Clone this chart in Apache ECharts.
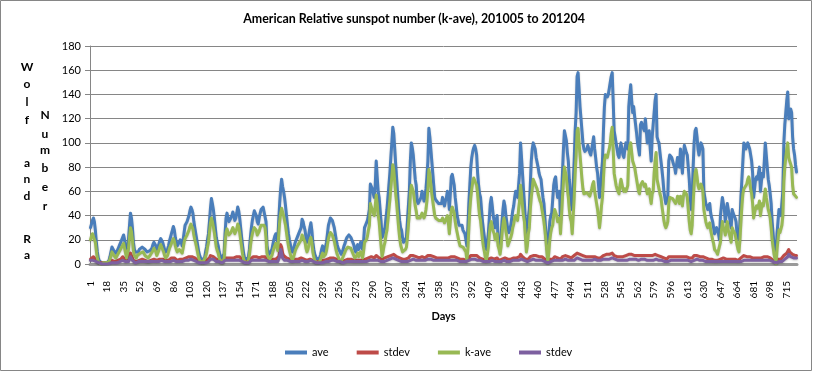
<!DOCTYPE html>
<html><head><meta charset="utf-8">
<script src="https://cdn.jsdelivr.net/npm/echarts@6/dist/echarts.min.js"></script>
<style>html,body{margin:0;padding:0;background:#fff}#c{width:813px;height:372px}</style>
</head><body><div id="c"></div>
<script>
// categories: day numbers
const days = [];
for (let i = 1; i <= 725; i++) days.push(String(i));

const yTicks = [0, 20, 40, 60, 80, 100, 120, 140, 160, 180];

const ave = [
30,33,36,38,35,28,18,10,5,3,2,1,1,2,1,1,2,1,2,3,6,10,14,13,11,
10,9,10,12,14,16,18,20,22,24,20,15,10,8,20,32,42,38,30,18,12,10,9,11,10,
12,13,12,14,15,14,12,11,10,9,10,11,10,13,16,18,19,15,12,13,16,19,21,22,18,
15,12,10,10,12,15,19,22,25,28,31,28,22,18,15,16,18,20,18,15,20,26,32,33,35,
36,40,44,47,45,42,35,30,25,20,15,10,7,5,5,4,3,5,10,14,20,25,35,46,54,
50,45,38,30,22,18,15,10,7,5,4,4,8,25,38,42,38,35,36,38,40,43,40,36,38,
42,47,44,38,30,22,15,9,5,4,5,4,6,12,22,30,36,40,44,45,40,35,33,38,42,
45,46,47,47,46,35,15,10,8,7,8,12,16,20,23,25,22,18,35,50,62,70,64,60,55,
48,40,32,25,20,16,12,10,12,15,18,20,22,24,25,25,30,37,35,31,28,22,18,20,25,
30,34,28,18,12,8,6,4,3,3,5,8,12,15,12,10,14,18,25,32,35,38,37,36,35,
30,25,20,16,13,12,10,8,9,12,15,17,20,22,23,24,24,22,20,18,16,12,10,14,16,
12,14,18,15,12,18,30,32,33,36,40,45,66,64,62,58,55,65,85,72,60,55,45,35,22,
24,28,30,38,45,55,65,75,88,100,113,108,95,82,70,58,45,36,30,28,22,18,17,20,22,
35,48,60,85,100,96,90,80,70,65,52,50,49,50,55,60,56,52,55,62,72,85,112,105,95,
85,75,65,55,53,52,52,50,50,49,50,55,52,48,52,55,60,55,45,58,72,74,75,65,55,
48,40,36,32,32,33,32,28,27,25,20,15,30,50,65,80,88,93,96,98,95,90,75,65,58,
55,45,35,28,22,15,12,18,25,38,50,55,48,40,35,30,36,40,20,17,15,22,35,45,52,
48,40,34,28,26,25,32,38,44,48,55,60,58,55,65,75,100,88,75,62,50,35,25,30,38,
45,65,85,95,100,100,95,88,88,80,75,72,70,62,55,50,38,25,15,8,25,35,40,42,42,
65,70,72,62,55,58,60,35,55,75,95,110,106,102,92,85,70,60,50,45,65,85,110,125,155,
158,145,130,120,110,100,95,93,92,95,98,95,92,90,95,100,105,95,88,80,75,65,55,65,75,
85,110,130,140,139,138,140,145,150,155,158,135,110,105,100,95,90,88,95,100,95,90,88,95,100,
97,95,130,140,148,135,125,130,122,115,108,100,95,90,115,117,118,112,110,120,110,100,105,110,95,
85,105,115,125,135,140,105,102,100,92,85,78,70,60,55,50,52,55,85,90,90,88,85,82,80,
75,82,88,85,80,95,85,75,90,98,95,92,90,80,70,55,45,55,80,100,110,112,105,95,90,
95,100,98,95,60,55,50,48,45,48,50,42,38,35,30,25,28,30,30,25,20,40,48,55,50,
45,35,42,50,45,40,35,30,45,42,40,38,35,25,22,20,35,55,70,85,100,98,95,98,100,
100,95,90,85,75,55,62,70,72,70,75,80,60,68,75,72,85,100,90,80,70,65,58,50,35,
25,15,10,5,25,35,45,42,40,50,60,100,115,125,135,142,120,125,128,125,105,95,90,82,76
];

const stdevAve = [
4,5,5,6,5,4,3,2,1,1,1,1,1,1,1,1,1,1,1,1,2,2,3,3,2,
2,2,2,3,3,3,4,4,6,7,5,3,2,2,4,7,9,7,5,3,3,2,2,3,3,
3,3,3,4,4,3,3,3,3,2,3,3,3,3,4,4,4,3,3,3,4,4,4,5,4,
3,3,3,3,3,3,4,4,5,5,6,5,4,4,3,3,4,4,4,3,4,5,5,5,6,
6,6,7,7,6,6,5,5,4,4,3,3,2,2,2,2,2,2,3,3,4,4,5,7,8,
7,6,6,5,4,4,3,3,2,2,2,2,3,5,6,6,5,5,5,5,6,6,5,5,5,
6,7,6,6,5,4,3,3,2,2,2,2,2,3,4,5,5,6,6,6,6,5,5,5,6,
6,6,6,6,6,5,3,3,3,3,3,3,4,4,4,4,4,4,6,10,16,14,9,7,6,
6,5,5,4,4,3,3,3,3,3,4,4,4,4,4,4,5,5,5,4,4,4,3,4,4,
4,5,4,3,3,2,2,2,2,2,2,2,3,3,3,3,3,4,4,5,5,5,5,5,5,
5,4,4,3,3,3,3,2,2,3,3,3,4,4,4,4,4,4,4,4,3,3,3,3,3,
3,3,3,3,3,3,4,4,4,5,5,5,6,6,6,6,5,6,7,6,6,5,5,4,4,
4,4,5,5,5,6,6,7,7,8,8,8,7,7,6,6,5,5,4,4,4,3,3,4,4,
5,5,6,7,7,7,7,6,6,6,5,5,5,5,5,6,5,5,5,6,6,7,8,7,7,
7,6,6,5,5,5,5,5,5,5,5,5,5,5,5,5,6,5,5,5,6,6,6,6,5,
5,5,4,4,4,4,4,4,4,4,3,3,4,5,6,7,7,7,7,8,7,7,6,6,5,
5,5,4,4,4,3,3,3,4,4,5,5,5,5,4,4,4,5,4,3,3,4,4,5,5,
5,5,4,4,4,4,4,4,5,5,5,5,5,5,6,6,8,7,6,6,5,4,3,4,4,
5,6,7,7,7,7,7,7,7,6,6,6,6,6,5,5,4,3,3,2,3,4,4,4,4,
5,6,6,5,5,5,5,4,5,6,7,7,7,7,7,6,6,5,5,5,6,7,8,8,9,
9,8,8,7,7,7,6,6,6,6,6,6,6,6,6,7,7,6,6,6,5,5,5,5,6,
6,7,8,8,8,8,8,8,9,9,9,8,7,7,7,6,6,6,6,7,6,6,6,6,7,
7,6,8,8,9,8,8,8,7,7,7,7,6,6,7,7,7,7,7,7,7,6,7,7,6,
6,7,7,8,8,8,7,7,7,6,6,6,5,5,5,4,4,5,6,6,6,6,6,6,6,
5,6,6,6,6,6,6,5,6,6,6,6,6,6,5,5,4,5,6,7,7,7,7,6,6,
6,7,7,6,5,5,5,4,4,4,4,4,4,3,3,3,3,3,3,3,3,4,4,5,5,
4,4,4,5,4,4,4,3,4,4,4,4,4,3,3,3,4,5,5,6,7,7,6,6,7,
7,6,6,6,5,5,5,5,5,5,5,6,5,5,5,5,6,7,6,6,5,5,5,4,4,
3,3,2,2,3,4,4,4,4,5,5,7,8,8,9,10,12,10,9,9,8,8,8,7,7
];

const kAve = [
20,23,25,26,24,18,11,5,2,1,0,0,0,1,0,0,1,0,1,2,4,7,10,9,7,
6,5,6,8,9,11,12,14,15,17,13,9,5,4,13,22,30,27,20,11,7,6,5,7,6,
8,9,8,9,10,9,7,7,6,5,6,7,6,8,11,13,14,10,7,8,11,14,16,17,12,
10,7,5,5,7,10,13,15,17,19,21,19,15,12,10,11,12,13,12,9,13,18,21,22,24,
25,28,31,33,31,29,24,20,17,13,9,5,3,2,2,1,1,2,6,9,14,18,26,34,38,
35,31,26,20,14,11,9,5,3,2,1,1,4,17,26,29,26,24,25,26,28,30,28,25,26,
29,33,31,26,20,14,8,4,2,1,2,1,3,8,15,21,25,28,30,31,28,24,23,27,30,
32,32,33,32,30,22,9,6,5,4,5,7,10,13,15,17,14,11,24,35,42,46,43,40,36,
32,26,20,15,11,8,5,3,5,8,11,13,14,16,17,16,20,24,23,20,18,13,10,12,16,
20,22,18,10,6,3,2,1,1,1,2,4,7,9,6,5,8,11,16,21,24,26,25,24,23,
19,15,11,8,6,4,3,2,3,6,8,10,12,13,14,14,14,13,11,9,7,5,4,7,9,
6,7,10,8,5,10,18,19,20,23,28,32,50,47,45,42,40,48,57,50,40,35,25,15,6,
10,15,18,24,28,36,45,53,63,72,82,78,68,58,50,40,30,22,16,13,10,10,11,12,14,
22,32,42,58,65,64,60,54,48,44,38,37,37,38,40,42,40,38,40,45,52,62,78,74,66,
58,52,46,40,38,38,37,36,36,35,36,38,37,34,36,38,40,34,25,35,45,47,48,42,35,
30,26,22,18,15,16,15,14,15,15,10,3,12,30,45,55,62,68,71,72,70,65,58,48,40,
36,28,20,14,10,5,3,8,14,25,32,35,30,27,25,20,22,25,15,12,8,14,25,33,38,
34,27,22,15,14,16,22,25,30,33,38,40,38,36,45,52,65,58,48,40,35,22,10,15,25,
30,45,55,62,70,70,66,65,62,58,55,52,50,45,40,35,28,20,10,1,10,20,26,30,32,
40,45,46,40,35,36,38,25,40,55,68,80,76,72,62,55,45,38,35,25,40,55,75,90,110,
112,100,90,80,70,62,58,57,57,59,60,58,56,57,62,66,68,60,55,50,45,38,30,38,48,
55,70,85,90,90,88,92,95,100,108,113,95,75,70,65,62,60,58,65,70,66,62,60,62,60,
62,65,90,98,100,92,85,86,80,75,70,65,60,58,65,66,68,66,64,66,62,58,60,62,55,
50,58,60,75,85,92,70,66,62,58,55,48,42,36,32,30,32,35,50,55,56,55,54,55,55,
50,52,56,54,50,56,54,48,56,60,60,58,55,45,35,28,25,32,50,65,75,78,72,65,62,
62,66,64,60,45,40,35,32,30,32,34,28,24,20,17,12,12,10,8,8,8,18,28,35,30,
28,24,30,35,28,25,22,18,30,28,27,25,24,16,12,10,20,35,48,58,62,62,63,66,70,
72,68,62,58,50,38,42,46,48,46,48,52,40,46,50,48,56,62,55,50,45,42,38,30,20,
14,8,4,0,12,20,28,26,25,32,40,68,80,88,95,100,88,85,86,80,65,58,57,56,55
];

const stdevK = [
3,3,3,3,3,2,2,1,1,1,0,0,0,0,0,0,0,0,0,0,1,1,1,1,1,
1,1,1,1,1,2,2,2,3,4,3,2,1,1,2,4,6,5,3,2,2,1,1,2,2,
2,2,2,2,2,2,2,2,2,1,1,2,2,2,2,2,2,2,2,2,2,2,3,3,2,
2,2,2,2,2,2,2,2,3,3,3,3,2,2,2,2,2,2,2,2,2,3,3,3,3,
3,3,4,4,4,3,3,3,2,2,2,2,1,1,1,1,1,1,1,2,2,2,3,4,4,
4,4,3,3,2,2,2,2,1,1,1,1,1,3,3,3,3,3,3,3,3,3,3,3,3,
3,4,3,3,3,2,2,1,1,1,1,1,1,2,2,3,3,3,3,3,3,3,3,3,3,
3,3,3,3,3,3,2,2,2,1,2,2,2,2,2,2,2,2,3,6,12,9,5,4,3,
3,3,3,2,2,2,2,2,2,2,2,2,2,2,2,2,3,3,3,3,2,2,2,2,2,
2,3,2,2,2,1,1,1,1,1,1,1,1,1,1,1,2,2,2,2,3,3,3,3,3,
3,2,2,2,2,2,2,1,1,1,2,2,2,2,2,2,2,2,2,2,2,2,2,2,2,
2,2,2,2,2,2,2,2,2,2,3,3,3,3,3,3,3,3,4,3,3,3,3,2,2,
2,2,3,3,3,3,3,4,4,4,5,5,4,4,4,3,3,3,3,2,2,2,2,2,2,
2,3,3,3,4,4,4,3,3,3,3,3,3,3,3,3,3,3,3,3,3,4,5,4,4,
4,3,3,3,3,3,3,3,3,3,3,3,3,3,3,3,3,3,3,3,3,3,3,3,3,
3,3,3,2,2,2,2,2,2,2,2,2,2,3,3,4,4,4,4,4,4,4,3,3,3,
3,3,2,2,2,2,2,2,2,2,3,3,3,2,2,2,2,2,2,2,2,2,2,3,3,
3,3,2,2,2,2,2,2,3,3,3,3,3,3,3,3,4,4,3,3,3,2,2,2,2,
2,3,3,4,4,4,4,3,3,3,3,3,3,3,3,3,2,2,2,1,2,2,2,2,2,
3,3,3,3,3,3,3,2,3,3,4,4,4,4,3,3,3,3,3,2,3,3,4,4,5,
5,5,4,4,4,3,3,3,3,3,3,3,3,3,3,3,4,4,3,3,3,3,3,3,3,
3,4,4,4,4,4,4,4,5,5,5,4,4,4,4,3,3,3,3,3,3,3,3,3,3,
3,3,4,4,5,4,4,4,4,4,3,3,3,3,4,4,4,4,4,4,3,3,3,3,3,
3,3,3,4,4,4,3,3,3,3,3,3,3,2,2,2,2,2,3,3,3,3,3,3,3,
3,3,3,3,3,3,3,3,3,3,3,3,3,3,3,2,2,2,3,3,4,4,4,3,3,
3,3,3,3,3,3,2,2,2,2,2,2,2,2,2,2,2,2,2,2,2,2,2,2,2,
2,2,2,2,2,2,2,2,2,2,2,2,2,2,2,2,2,2,3,3,3,3,3,3,3,
3,3,3,3,3,3,3,3,3,3,3,3,3,3,3,3,3,4,3,3,3,3,3,2,2,
2,2,1,1,2,2,2,2,2,2,3,3,4,4,5,6,8,7,6,6,5,5,5,5,5
];

const seriesNames = ['ave', 'stdev', 'k-ave', 'stdev#2'];
const seriesColors = ['#4A7EBB', '#BE4B48', '#98B954', '#7D60A0'];
const seriesData = [ave, stdevAve, kAve, stdevK];

const FONT = 'Lato, "Liberation Sans", sans-serif';

// stacked vertical y-axis title letters
const yTitleLetters = [
  ['W', 27, 67], ['o', 27, 84], ['l', 27, 102], ['f', 27, 120],
  ['a', 27, 163], ['n', 27, 179], ['d', 27, 196],
  ['R', 27, 239], ['a', 27, 255],
  ['N', 45, 115], ['u', 45, 134], ['m', 45, 150], ['b', 45, 168], ['e', 45, 187], ['r', 45, 206]
];

const graphics = [
  { type: 'rect', shape: { x: 0.5, y: 0.5, width: 811, height: 370 }, style: { fill: null, stroke: '#868686', lineWidth: 1 }, silent: true },
  { type: 'text', x: 414, y: 19, style: { text: 'American Relative sunspot number (k-ave), 201005 to 201204', font: 'bold 12.4px ' + FONT, fill: '#000', align: 'center', verticalAlign: 'middle', textAlign: 'center', textVerticalAlign: 'middle' } }
];
yTitleLetters.forEach(function (l) {
  graphics.push({ type: 'text', x: l[1], y: l[2], style: { text: l[0], font: 'bold 12px ' + FONT, fill: '#000', align: 'center', verticalAlign: 'middle', textAlign: 'center', textVerticalAlign: 'middle' } });
});

const chart = echarts.init(document.getElementById('c'), null, { renderer: 'canvas' });
chart.setOption({
  animation: false,
  backgroundColor: '#fff',
  grid: { left: 90, right: 16, top: 46, bottom: 108, containLabel: false, outerBoundsMode: 'none' },
  legend: {
    left: 285, top: 347, itemWidth: 22, itemHeight: 4, itemGap: 28, padding: 0,
    icon: 'rect',
    data: seriesNames,
    formatter: function (n) { return n.split('#')[0]; },
    textStyle: { fontFamily: FONT, fontSize: 11, color: '#000' }
  },
  xAxis: {
    type: 'category', data: days, boundaryGap: true,
    axisLine: { lineStyle: { color: '#9a9a9a', width: 3 } },
    axisTick: { show: false },
    axisLabel: { interval: 16, rotate: 90, fontSize: 10, fontFamily: FONT, color: '#000', margin: 17 },
    splitLine: { show: false },
    name: 'Days', nameLocation: 'middle', nameGap: 47,
    nameTextStyle: { fontFamily: FONT, fontWeight: 'bold', fontSize: 11, color: '#000' }
  },
  yAxis: {
    type: 'value', min: yTicks[0], max: yTicks[yTicks.length - 1], interval: yTicks[1] - yTicks[0],
    axisLine: { show: true, lineStyle: { color: '#868686' } },
    axisTick: { show: true, length: 5, lineStyle: { color: '#868686' } },
    axisLabel: { fontSize: 11, fontFamily: FONT, color: '#000', margin: 9 },
    splitLine: { lineStyle: { color: '#868686', width: 1 } }
  },
  series: seriesNames.map(function (n, i) {
    return {
      name: n, type: 'line', data: seriesData[i], symbol: 'none', showSymbol: false,
      lineStyle: { width: 3, color: seriesColors[i], join: 'round', cap: 'round',
        shadowColor: 'rgba(0,0,0,0.22)', shadowBlur: 2, shadowOffsetY: 1 },
      itemStyle: { color: seriesColors[i] }
    };
  }),
  graphic: graphics
});

seriesData.forEach(function (d, i) {
  if (d.length !== days.length) throw new Error('length mismatch ' + seriesNames[i] + ' ' + d.length);
});
</script>
</body></html>
